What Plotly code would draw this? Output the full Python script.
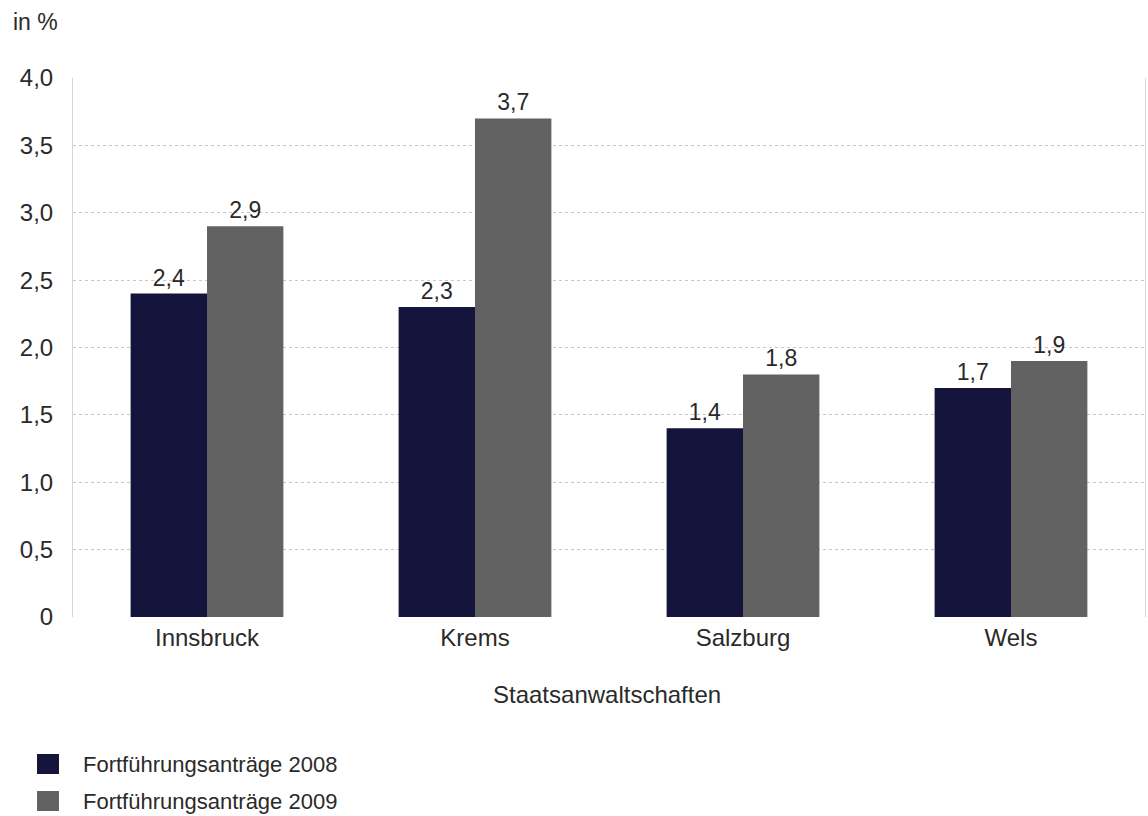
import plotly.graph_objects as go

# Anteil der Fortführungsanträge je Staatsanwaltschaft
staatsanwaltschaften = ["Innsbruck", "Krems", "Salzburg", "Wels"]
antraege_2008 = [2.4, 2.3, 1.4, 1.7]
antraege_2009 = [2.9, 3.7, 1.8, 1.9]
series_names = ["Fortführungsanträge 2008", "Fortführungsanträge 2009"]
series_colors = ["#14143c", "#626262"]
y_tickvals = [0, 0.5, 1.0, 1.5, 2.0, 2.5, 3.0, 3.5, 4.0]
y_ticktext = ["0", "0,5", "1,0", "1,5", "2,0", "2,5", "3,0", "3,5", "4,0"]

FONT = "Liberation Sans"
TXT = "#2a2a2a"
W, H = 1148, 816
ML, MR, MT, MB = 73, 3, 78, 199
PW, PH = W - ML - MR, H - MT - MB


def px_x(px):
    return (px - ML) / PW


def px_y(py):
    return 1 - (py - MT) / PH


fig = go.Figure()
for name, vals, col in zip(series_names, [antraege_2008, antraege_2009], series_colors):
    fig.add_trace(go.Bar(
        x=staatsanwaltschaften, y=vals, name=name,
        marker=dict(color=col, line=dict(width=0)),
        texttemplate="%{y:.1f}", textposition="outside",
        textfont=dict(family=FONT, size=23, color=TXT),
        cliponaxis=False, showlegend=False,
    ))

# legend with large square swatches
for i, (name, col) in enumerate(zip(series_names, series_colors)):
    cy = 764 + i * 37
    fig.add_shape(type="rect", xref="paper", yref="paper",
                  x0=px_x(37), x1=px_x(59), y0=px_y(cy - 10), y1=px_y(cy + 10),
                  fillcolor=col, line=dict(width=0))
    fig.add_annotation(xref="paper", yref="paper", x=px_x(81), y=px_y(cy),
                       text=name, showarrow=False, xanchor="left", yanchor="middle",
                       font=dict(family=FONT, size=22, color=TXT))

fig.add_annotation(xref="paper", yref="paper", x=px_x(11), y=px_y(22),
                   text="in %", showarrow=False, xanchor="left", yanchor="middle",
                   font=dict(family=FONT, size=23, color=TXT))
fig.add_annotation(xref="paper", yref="paper", x=px_x(607), y=px_y(694),
                   text="Staatsanwaltschaften", showarrow=False,
                   xanchor="center", yanchor="middle",
                   font=dict(family=FONT, size=24, color=TXT))

fig.update_layout(
    width=W, height=H,
    margin=dict(l=ML, r=MR, t=MT, b=MB),
    paper_bgcolor="white", plot_bgcolor="white",
    barmode="group", bargap=0.43, bargroupgap=0,
    separators=",.",
    font=dict(family=FONT, size=24, color=TXT),
    xaxis=dict(showgrid=False, zeroline=False, showline=False,
               ticks="", ticklabelstandoff=4,
               tickfont=dict(family=FONT, size=24, color=TXT)),
    yaxis=dict(range=[0, 4.0], tickvals=y_tickvals, ticktext=y_ticktext,
               showgrid=True, gridcolor="#c9c8b8", griddash="dot", gridwidth=1,
               zeroline=False, showline=True, linecolor="#d6d6d6", linewidth=1,
               mirror=True, ticks="", ticklabelstandoff=14,
               tickfont=dict(family=FONT, size=24, color=TXT)),
)

fig.write_html("out.html")
